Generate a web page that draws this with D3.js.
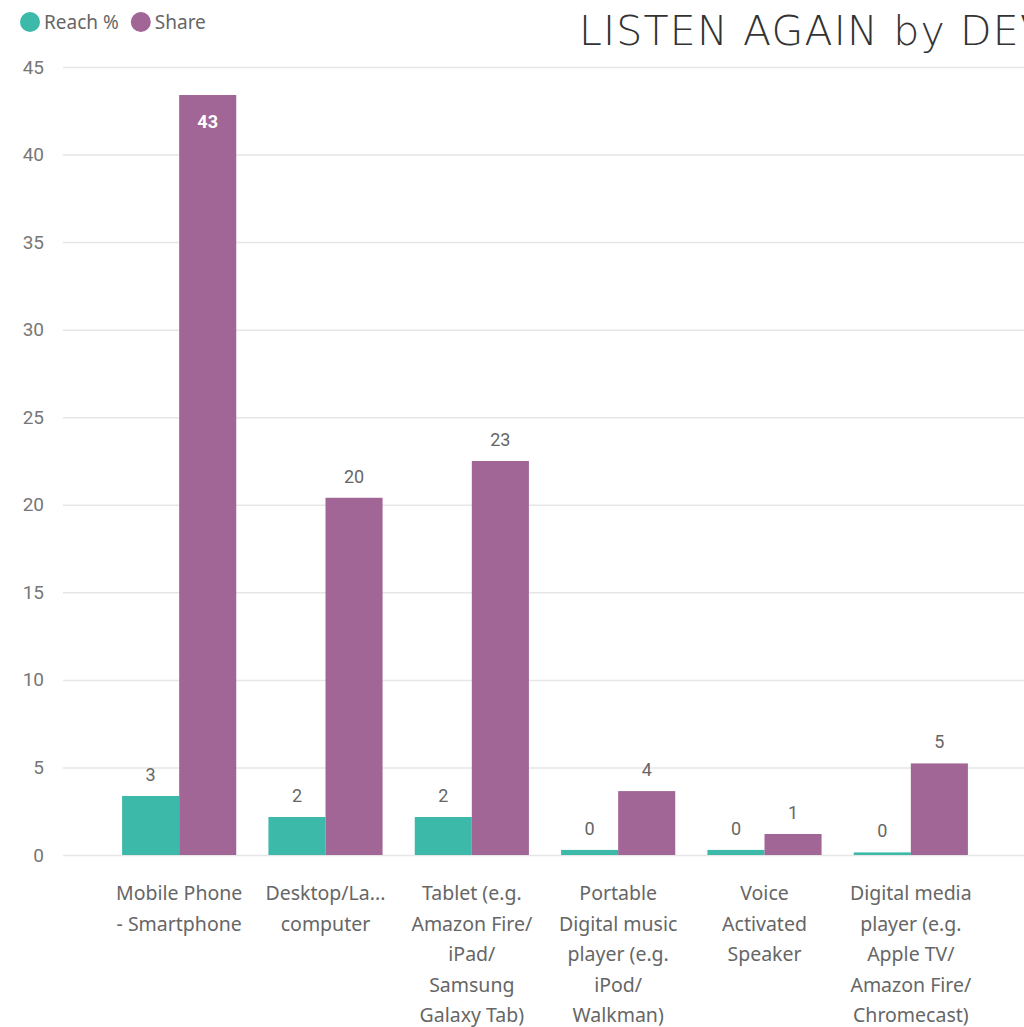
<!DOCTYPE html>
<html>
<head>
<meta charset="utf-8">
<script src="https://cdn.jsdelivr.net/npm/d3@7"></script>
<style>
  html, body { margin: 0; padding: 0; background: #fff; overflow: hidden; }
  svg { display: block; }
</style>
</head>
<body>
<svg id="chart" width="1024" height="1027"></svg>
<script>
// ---- data ----
const categories = [
  "Mobile Phone\n- Smartphone",
  "Desktop/La...\ncomputer",
  "Tablet (e.g.\nAmazon Fire/\niPad/\nSamsung\nGalaxy Tab)",
  "Portable\nDigital music\nplayer (e.g.\niPod/\nWalkman)",
  "Voice\nActivated\nSpeaker",
  "Digital media\nplayer (e.g.\nApple TV/\nAmazon Fire/\nChromecast)"
];
const seriesNames = ["Reach %", "Share"];
const reachValues = [3.37, 2.17, 2.17, 0.29, 0.29, 0.15];
const shareValues = [43.4, 20.4, 22.5, 3.65, 1.2, 5.23];
const yTicks = [0, 5, 10, 15, 20, 25, 30, 35, 40, 45];
const colors = ["#3DB9AA", "#A16596"];
const title = "LISTEN AGAIN by DEVICE";

// ---- scales ----
const svg = d3.select("#chart");
const x0 = d3.scaleBand().domain(categories).range([106, 984])
  .paddingInner(0.22).paddingOuter(0.11);
const x1 = d3.scaleBand().domain(seriesNames).range([0, x0.bandwidth()]);
const y = d3.scaleLinear().domain([0, 45]).range([855, 67]);
const color = d3.scaleOrdinal().domain(seriesNames).range(colors);

// gridlines + y labels
const yAxis = d3.axisLeft(y).tickValues(yTicks).tickSize(-(1024 - 63)).tickPadding(18);
const gy = svg.append("g").attr("transform", "translate(63,0)").call(yAxis);
gy.select(".domain").remove();
gy.selectAll(".tick line").attr("stroke", "#e6e6e6").attr("stroke-width", 1.5);
gy.selectAll(".tick text")
  .attr("fill", "#777").attr("font-family", "Roboto, sans-serif")
  .attr("font-size", 19).attr("x", -19);

// bars
const rows = categories.map((c, i) => ({ cat: c, vals: [
  { key: seriesNames[0], v: reachValues[i] },
  { key: seriesNames[1], v: shareValues[i] } ] }));

const groups = svg.append("g").selectAll("g").data(rows).join("g")
  .attr("transform", d => `translate(${x0(d.cat)},0)`);

groups.selectAll("rect").data(d => d.vals).join("rect")
  .attr("x", d => x1(d.key))
  .attr("y", d => y(d.v))
  .attr("width", x1.bandwidth())
  .attr("height", d => y(0) - y(d.v))
  .attr("fill", d => color(d.key));

// data labels (inside only when the bar reaches the top of the plot)
const inside = d => d.v > 40;
groups.selectAll("text.lbl").data(d => d.vals).join("text")
  .attr("class", "lbl")
  .attr("x", d => x1(d.key) + x1.bandwidth() / 2)
  .attr("y", d => inside(d) ? y(d.v) + 33 : y(d.v) - 15)
  .attr("text-anchor", "middle")
  .attr("font-family", "Roboto, sans-serif")
  .attr("font-size", 18)
  .attr("font-weight", d => inside(d) ? "bold" : "normal")
  .attr("fill", d => inside(d) ? "#fff" : "#666")
  .text(d => Math.round(d.v));

// category labels
const xAxis = svg.append("g");
categories.forEach(c => {
  const cx = x0(c) + x0.bandwidth() / 2;
  const t = xAxis.append("text")
    .attr("x", cx)
    .attr("y", 900)
    .attr("text-anchor", "middle")
    .attr("font-family", "'Noto Sans', sans-serif")
    .attr("font-size", 19.5)
    .attr("fill", "#666");
  c.split("\n").forEach((line, i) => {
    t.append("tspan").attr("x", cx)
      .attr("dy", i === 0 ? 0 : 30.5).text(line);
  });
});

// legend
const legend = svg.append("g");
let lx = 30;
seriesNames.forEach((s, i) => {
  legend.append("circle").attr("cx", lx).attr("cy", 22).attr("r", 10).attr("fill", colors[i]);
  const t = legend.append("text").attr("x", lx + 14).attr("y", 29)
    .attr("font-family", "'Noto Sans', sans-serif").attr("font-size", 19)
    .attr("fill", "#666").text(s);
  lx += 14 + t.node().getComputedTextLength() + 22;
});

// title (runs past the right edge, as in the reference)
svg.append("text").attr("x", 579).attr("y", 45)
  .attr("font-family", "'DejaVu Sans', sans-serif").attr("font-weight", 200)
  .attr("font-size", 41).attr("letter-spacing", 1.2)
  .attr("fill", "#333").text(title);
</script>
</body>
</html>
